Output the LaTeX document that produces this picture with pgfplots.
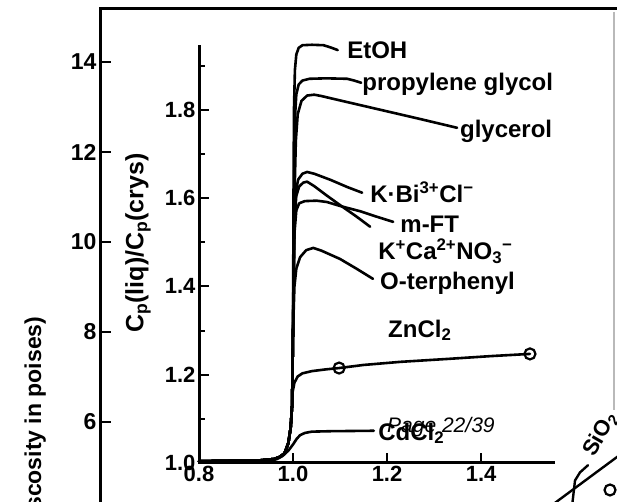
\documentclass[border=0pt]{standalone}
\usepackage{fontspec}
\setmainfont{Liberation Sans}
\usepackage{pgfplots}
\pgfplotsset{compat=1.18}
\newcommand{\lbl}{\bfseries\fontsize{24}{26}\selectfont}
\newcommand{\mns}{\char"2212}
\pgfplotsset{curve/.style={black, solid, line width=2.6pt, no markers, line join=round, line cap=round}}
\begin{document}
\begin{tikzpicture}
\useasboundingbox (0pt,0pt) rectangle (617pt,502pt);
\clip (0pt,0pt) rectangle (617pt,502pt);
\fill[white] (0pt,0pt) rectangle (617pt,502pt);
% outer frame (viscosity axis)
\begin{axis}[
  at={(100pt,-58pt)}, anchor=south west,
  scale only axis, width=600pt, height=551pt,
  xmin=100, xmax=700, ymin=2.933, ymax=15.178,
  axis line style={line width=3pt, line cap=rect},
  xtick=\empty, ytick={6,8,10,12,14},
  yticklabels={6,8,10,12,14},
  ytick pos=left, tick align=inside,
  major tick length=11pt,
  tick style={line width=2.2pt, black},
  tick label style={font=\bfseries\fontsize{23}{25}\selectfont},
  ylabel={log (viscosity in poises)},
  ylabel style={at={(axis description cs:-0.108,0.448)}, anchor=east, font=\bfseries\fontsize{23}{25}\selectfont},
]
\addplot[curve, line width=2.4pt] coordinates {(540,3.956) (640,5.6)};
\addplot[curve, line width=2.4pt] coordinates {(571,3.93) (575,4.7) (580,4.88) (588,5.04)};
\addplot[black, line width=2.2pt, only marks, mark=o, mark size=5.5pt, mark options={fill=white, solid}] coordinates {(610,4.489)};
\node[rotate=60, anchor=base west, inner sep=0pt, font=\bfseries\fontsize{22}{24}\selectfont] at (axis cs:594,5.20) {SiO\textsubscript{2}};
\end{axis}
% inner Cp axis
\begin{axis}[
  at={(199pt,39pt)}, anchor=south west,
  scale only axis, width=354pt, height=416pt,
  xmin=0.8, xmax=1.553, ymin=1.0, ymax=1.942,
  axis lines=left,
  axis line style={-, line width=3pt, line cap=rect},
  xtick={0.8,1.0,1.2,1.4}, ytick={1.0,1.2,1.4,1.6,1.8},
  xticklabels={0.8,1.0,1.2,1.4}, yticklabels={1.0,1.2,1.4,1.6,1.8},
  minor ytick={1.1,1.3,1.5,1.7,1.9},
  tick align=inside,
  major tick length=10pt, minor tick length=6pt,
  tick style={line width=2pt, black},
  tick label style={font=\bfseries\fontsize{22}{24}\selectfont},
  ylabel={C\textsubscript{p}(liq)/C\textsubscript{p}(crys)},
  ylabel style={at={(axis description cs:-0.172,0.529)}, anchor=center, font=\bfseries\fontsize{25}{27}\selectfont},
  clip=false,
]
% EtOH
\addplot[curve] coordinates {(0.80,1.004) (0.93,1.006) (0.96,1.009) (0.972,1.014) (0.982,1.022) (0.99,1.045) (0.995,1.08) (0.998,1.13) (1.0,1.3) (1.001,1.6) (1.002,1.8) (1.004,1.89) (1.007,1.925) (1.012,1.94) (1.02,1.946) (1.04,1.947) (1.065,1.946) (1.08,1.941) (1.095,1.935)};
% propylene glycol
\addplot[curve] coordinates {(0.80,1.004) (0.93,1.006) (0.96,1.009) (0.972,1.014) (0.982,1.022) (0.99,1.045) (0.995,1.08) (0.998,1.13) (1.0,1.3) (1.002,1.6) (1.004,1.78) (1.007,1.835) (1.012,1.857) (1.02,1.866) (1.035,1.870) (1.07,1.871) (1.115,1.870) (1.13,1.866) (1.145,1.861)};
% glycerol
\addplot[curve] coordinates {(0.80,1.004) (0.93,1.006) (0.96,1.009) (0.972,1.014) (0.982,1.022) (0.99,1.045) (0.995,1.08) (0.998,1.13) (1.0,1.3) (1.003,1.6) (1.006,1.73) (1.01,1.79) (1.018,1.82) (1.03,1.832) (1.045,1.834) (1.06,1.831) (1.1,1.821) (1.185,1.80) (1.27,1.779) (1.349,1.759)};
% K Bi Cl
\addplot[curve] coordinates {(0.80,1.004) (0.93,1.006) (0.96,1.009) (0.972,1.014) (0.982,1.022) (0.99,1.045) (0.995,1.08) (0.998,1.13) (1.0,1.3) (1.003,1.55) (1.006,1.615) (1.011,1.642) (1.02,1.655) (1.03,1.659) (1.045,1.655) (1.08,1.641) (1.115,1.625) (1.147,1.612)};
% K Ca NO3
\addplot[curve] coordinates {(0.80,1.004) (0.93,1.006) (0.96,1.009) (0.972,1.014) (0.982,1.022) (0.99,1.045) (0.995,1.08) (0.998,1.13) (1.0,1.3) (1.003,1.55) (1.007,1.605) (1.013,1.626) (1.022,1.635) (1.03,1.637) (1.045,1.627) (1.07,1.607) (1.10,1.584) (1.135,1.558) (1.164,1.535)};
% m-FT
\addplot[curve] coordinates {(0.80,1.004) (0.93,1.006) (0.96,1.009) (0.972,1.014) (0.982,1.022) (0.99,1.045) (0.995,1.08) (0.998,1.13) (1.0,1.3) (1.003,1.52) (1.007,1.572) (1.013,1.588) (1.025,1.593) (1.05,1.594) (1.072,1.591) (1.10,1.582) (1.143,1.570) (1.18,1.557) (1.213,1.546)};
% O-terphenyl
\addplot[curve] coordinates {(0.80,1.004) (0.93,1.006) (0.96,1.009) (0.972,1.014) (0.982,1.022) (0.99,1.045) (0.995,1.08) (0.998,1.13) (1.0,1.3) (1.003,1.40) (1.007,1.44) (1.015,1.466) (1.028,1.482) (1.043,1.487) (1.06,1.481) (1.10,1.462) (1.135,1.44) (1.17,1.417)};
% ZnCl2
\addplot[curve] coordinates {(0.80,1.004) (0.93,1.006) (0.96,1.009) (0.972,1.014) (0.982,1.022) (0.99,1.045) (0.995,1.08) (0.998,1.13) (0.999,1.16) (1.003,1.182) (1.01,1.196) (1.02,1.203) (1.04,1.208) (1.07,1.212) (1.098,1.215) (1.15,1.222) (1.228,1.229) (1.334,1.236) (1.42,1.242) (1.504,1.247)};
\addplot[black, only marks, mark=o, mark size=5.5pt, line width=2.2pt, mark options={fill=white, solid}] coordinates {(1.098,1.215) (1.504,1.247)};
% CdCl2
\addplot[curve] coordinates {(0.80,1.004) (0.955,1.006) (0.966,1.009) (0.978,1.016) (0.99,1.028) (1.0,1.042) (1.008,1.055) (1.015,1.063) (1.025,1.068) (1.04,1.071) (1.08,1.072) (1.172,1.073)};
% labels
\node[anchor=base west, inner sep=0pt, font=\lbl] at (axis cs:1.115,1.917) {EtOH};
\node[anchor=base west, inner sep=0pt, font=\lbl] at (axis cs:1.147,1.843) {propylene glycol};
\node[anchor=base west, inner sep=0pt, font=\lbl] at (axis cs:1.355,1.738) {glycerol};
\node[anchor=base west, inner sep=0pt, font=\lbl] at (axis cs:1.164,1.589) {K·Bi\textsuperscript{3+}Cl\textsuperscript{\mns}};
\node[anchor=base west, inner sep=0pt, font=\lbl] at (axis cs:1.228,1.523) {m-FT};
\node[anchor=base west, inner sep=0pt, font=\lbl] at (axis cs:1.181,1.460) {K\textsuperscript{+}Ca\textsuperscript{2+}NO\textsubscript{3}\textsuperscript{\mns}};
\node[anchor=base west, inner sep=0pt, font=\lbl] at (axis cs:1.185,1.392) {O-terphenyl};
\node[anchor=base west, inner sep=0pt, font=\lbl] at (axis cs:1.202,1.285) {ZnCl\textsubscript{2}};
\node[anchor=base west, inner sep=0pt, font=\lbl] at (axis cs:1.181,1.052) {CdCl\textsubscript{2}};
\end{axis}
\draw[gray!55, line width=2pt] (614pt,490pt) -- (614pt,92pt);
\node[anchor=base west, inner sep=0pt, font=\itshape\fontsize{21}{22}\selectfont] at (387pt,69pt) {Page 22/39};
\end{tikzpicture}
\end{document}
